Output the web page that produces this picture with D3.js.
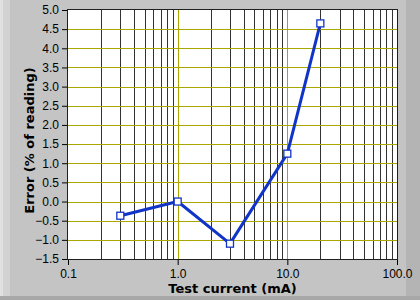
<!DOCTYPE html>
<html>
<head>
<meta charset="utf-8">
<script src="https://cdn.jsdelivr.net/npm/d3@7"></script>
<style>
  body { margin: 0; background: #c4c4c4; }
  svg { display: block; }
  text { font-family: "Liberation Sans", Arial, sans-serif; }
</style>
</head>
<body>
<svg id="chart" width="420" height="300"></svg>
<script>
// data
var currents = [0.3, 1.0, 3.0, 10.0, 20.0];
var errors = [-0.37, 0.0, -1.1, 1.25, 4.65];
var xTicks = [0.1, 1, 10, 100];
var yTicks = [-1.5, -1.0, -0.5, 0.0, 0.5, 1.0, 1.5, 2.0, 2.5, 3.0, 3.5, 4.0, 4.5, 5.0];

var W = 420, H = 300;
var m = {left: 68, right: 23, top: 10, bottom: 41};

var svg = d3.select("#chart");

// panel bevel
svg.append("rect").attr("width", W).attr("height", H).attr("fill", "#c4c4c4");
svg.append("rect").attr("x", 0).attr("y", 0).attr("width", 10).attr("height", H).attr("fill", "#d2d2d2");
svg.append("rect").attr("x", 0).attr("y", 0).attr("width", 3).attr("height", H).attr("fill", "#e0e0e0");
svg.append("rect").attr("x", W - 14).attr("y", 0).attr("width", 14).attr("height", H).attr("fill", "#b4b4b4");
svg.append("rect").attr("x", 0).attr("y", H - 4).attr("width", W).attr("height", 4).attr("fill", "#a8a8a8");

var x = d3.scaleLog().domain([0.1, 100]).range([m.left, W - m.right]);
var y = d3.scaleLinear().domain([-1.5, 5.0]).range([H - m.bottom, m.top]);

// plot area
svg.append("rect")
    .attr("x", m.left).attr("y", m.top)
    .attr("width", W - m.left - m.right).attr("height", H - m.top - m.bottom)
    .attr("fill", "white");

// minor vertical grid
var minor = [];
[0.1, 1, 10].forEach(function(d){
    for (var k = 2; k <= 9; k++) minor.push(d * k);
});
svg.append("g").selectAll("line")
    .data(minor).enter().append("line")
    .attr("x1", d => Math.round(x(d)) + 0.5).attr("x2", d => Math.round(x(d)) + 0.5)
    .attr("y1", m.top).attr("y2", H - m.bottom)
    .attr("stroke", "#333").attr("stroke-width", 1);

// major grid (olive)
svg.append("g").selectAll("line")
    .data(yTicks.filter(d => d > -1.5 && d < 5.0)).enter().append("line")
    .attr("x1", m.left).attr("x2", W - m.right)
    .attr("y1", d => Math.round(y(d)) + 0.5).attr("y2", d => Math.round(y(d)) + 0.5)
    .attr("stroke", "#aaa600").attr("stroke-width", 1);
svg.append("g").selectAll("line")
    .data([1, 10]).enter().append("line")
    .attr("x1", d => Math.round(x(d)) + 0.5).attr("x2", d => Math.round(x(d)) + 0.5)
    .attr("y1", m.top).attr("y2", H - m.bottom)
    .attr("stroke", "#aaa600").attr("stroke-width", 1);

// plot border
svg.append("rect")
    .attr("x", m.left - 0.5).attr("y", m.top - 0.5)
    .attr("width", W - m.left - m.right + 1).attr("height", H - m.top - m.bottom + 1)
    .attr("fill", "none").attr("stroke", "#202020");

// axes
var yAxis = svg.append("g")
    .attr("transform", "translate(" + (m.left - 1) + ",0)")
    .call(d3.axisLeft(y).tickValues(yTicks).tickFormat(d3.format(".1f")).tickSize(5).tickPadding(3));
var xAxis = svg.append("g")
    .attr("transform", "translate(0," + (H - m.bottom + 1) + ")")
    .call(d3.axisBottom(x).tickValues(xTicks).tickFormat(d3.format(".1f")).tickSize(5).tickPadding(4));
[yAxis, xAxis].forEach(function(a){
    a.select(".domain").remove();
    a.selectAll(".tick line").attr("stroke", "#000");
    a.selectAll("text").attr("fill", "#000")
        .style("font-family", "'Liberation Sans', Arial, sans-serif").style("font-size", "12px");
});

// axis titles
svg.append("text")
    .attr("x", (m.left + W - m.right) / 2).attr("y", 293)
    .attr("text-anchor", "middle").attr("font-size", "13px").attr("font-weight", "bold")
    .style("font-family", "'DejaVu Sans', Verdana, sans-serif")
    .text("Test current (mA)");
svg.append("text")
    .attr("transform", "translate(34," + ((m.top + H - m.bottom) / 2 + 6) + ") rotate(-90)")
    .attr("text-anchor", "middle").attr("font-size", "13px").attr("font-weight", "bold")
    .style("font-family", "'DejaVu Sans', Verdana, sans-serif")
    .text("Error (% of reading)");

// series
var pts = currents.map((c, i) => [c, errors[i]]);
svg.append("path")
    .datum(pts)
    .attr("fill", "none").attr("stroke", "#1034c8").attr("stroke-width", 3)
    .attr("stroke-linejoin", "round")
    .attr("d", d3.line().x(d => x(d[0])).y(d => y(d[1])));
svg.append("g").selectAll("rect")
    .data(pts).enter().append("rect")
    .attr("x", d => x(d[0]) - 3.5).attr("y", d => y(d[1]) - 3.5)
    .attr("width", 7).attr("height", 7)
    .attr("fill", "#fff").attr("stroke", "#1034c8").attr("stroke-width", 1.3);
</script>
</body>
</html>
